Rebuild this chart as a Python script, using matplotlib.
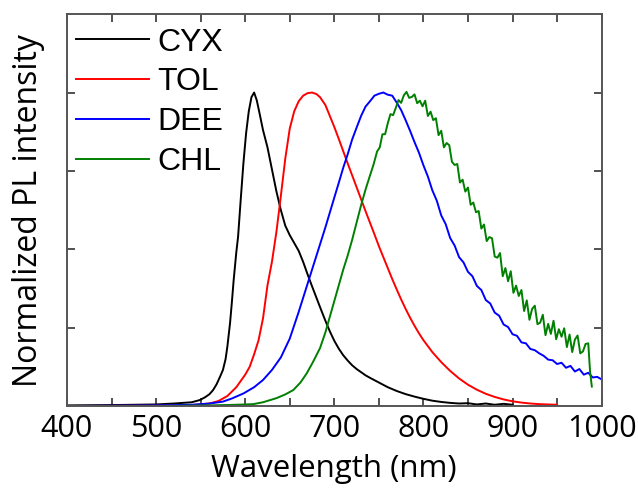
import numpy as np
import matplotlib.pyplot as plt

# PL spectra, normalized to peak
wl_cyx = [400, 450, 500, 520, 540, 549, 555, 560, 564, 568, 572, 575, 578, 580, 583,
          585, 587, 590, 592, 595, 598, 601, 604, 607, 610, 613, 616, 620, 625, 630,
          635, 640, 645, 650, 655, 660, 665, 670, 675, 680, 685, 690, 695, 700, 705,
          710, 715, 720, 725, 730, 735, 740, 750, 760, 770, 780, 790, 800, 810, 820,
          830, 840, 850, 860, 870, 880, 890, 900]
pl_cyx = [0.002, 0.003, 0.005, 0.008, 0.012, 0.019, 0.028, 0.038, 0.051, 0.07, 0.095, 0.115,
          0.15, 0.19, 0.265, 0.33, 0.40, 0.49, 0.54, 0.66, 0.775, 0.87, 0.94, 0.985,
          1.0, 0.975, 0.935, 0.88, 0.825, 0.755, 0.685, 0.625, 0.575, 0.545, 0.52,
          0.495, 0.46, 0.42, 0.382, 0.345, 0.308, 0.272, 0.238, 0.208, 0.183, 0.162,
          0.145, 0.13, 0.118, 0.108, 0.098, 0.09, 0.075, 0.06, 0.048, 0.038, 0.03,
          0.023, 0.017, 0.013, 0.010, 0.008, 0.009, 0.005, 0.008, 0.004, 0.007, 0.004]

wl_tol = [400, 500, 540, 560, 570, 580, 590, 595, 600, 605, 610, 615, 620, 625, 630,
          635, 640, 645, 650, 655, 660, 665, 670, 675, 680, 684, 690, 695, 700, 705,
          710, 715, 720, 725, 730, 735, 740, 745, 750, 755, 760, 765, 770, 775, 780,
          785, 790, 795, 800, 810, 820, 830, 840, 850, 860, 870, 880, 890, 900, 910,
          920, 930, 940, 950]
pl_tol = [0.0, 0.001, 0.003, 0.008, 0.016, 0.032, 0.06, 0.08, 0.1, 0.125, 0.165, 0.21,
          0.28, 0.385, 0.46, 0.555, 0.67, 0.79, 0.885, 0.94, 0.972, 0.99, 0.998, 1.0,
          0.995, 0.985, 0.96, 0.925, 0.89, 0.852, 0.813, 0.774, 0.736, 0.698, 0.66,
          0.622, 0.585, 0.548, 0.51, 0.475, 0.44, 0.405, 0.372, 0.34, 0.31, 0.282,
          0.256, 0.232, 0.21, 0.172, 0.14, 0.112, 0.088, 0.068, 0.052, 0.039, 0.029,
          0.021, 0.015, 0.011, 0.008, 0.006, 0.005, 0.004]

wl_dee = [400, 500, 540, 560, 575, 585, 598, 610, 620, 630, 640, 650, 660, 670, 680,
          690, 700, 705, 710, 715, 720, 725, 730, 735, 740, 745, 750, 755, 760, 765,
          770, 775, 780, 785, 790, 795, 800, 805, 810, 815, 820, 825, 830, 835, 840,
          845, 850, 855, 860, 865, 870, 875, 880, 885, 890, 895, 900, 905, 910, 915,
          920, 925, 930, 935, 940, 945, 950, 955, 960, 965, 970, 975, 980, 985, 990,
          995, 1000]
pl_dee = [0.0, 0.002, 0.004, 0.008, 0.014, 0.024, 0.04, 0.06, 0.083, 0.115, 0.155,
          0.215, 0.3, 0.39, 0.48, 0.57, 0.665, 0.712, 0.76, 0.803, 0.85, 0.888, 0.925,
          0.955, 0.972, 0.99, 0.996, 1.0, 0.993, 0.99, 0.968, 0.944, 0.912, 0.878,
          0.842, 0.808, 0.768, 0.732, 0.688, 0.655, 0.608, 0.58, 0.536, 0.512, 0.475,
          0.458, 0.428, 0.414, 0.383, 0.37, 0.338, 0.327, 0.298, 0.288, 0.26, 0.252,
          0.229, 0.224, 0.203, 0.2, 0.182, 0.178, 0.168, 0.16, 0.148, 0.146, 0.134,
          0.138, 0.122, 0.128, 0.11, 0.118, 0.1, 0.106, 0.091, 0.093, 0.085]

wl_chl = [430, 500, 560, 590, 609, 620, 635, 645, 654, 662, 669, 676, 684, 690, 695,
          700, 705, 710, 715, 720, 725, 730, 735, 740, 744, 748, 751, 754, 757, 760,
          763, 766, 769, 772, 775, 778, 781, 784, 787, 790, 793, 796, 799, 802, 805,
          808, 811, 814, 817, 820, 823, 826, 829, 832, 835, 838, 841, 844, 847, 850,
          853, 856, 859, 862, 865, 868, 871, 874, 877, 880, 883, 886, 889, 892, 895,
          898, 901, 904, 907, 910, 913, 916, 919, 922, 925, 928, 931, 934, 937, 940,
          943, 946, 949, 952, 955, 958, 961, 964, 967, 970, 973, 976, 979, 982, 985,
          987, 989]
pl_chl = [0.0, 0.0, 0.002, 0.004, 0.006, 0.012, 0.025, 0.037, 0.051, 0.075, 0.104, 0.14,
          0.185, 0.235, 0.285, 0.335, 0.385, 0.435, 0.48, 0.53, 0.585, 0.64, 0.69,
          0.735, 0.77, 0.812, 0.825, 0.867, 0.867, 0.902, 0.931, 0.928, 0.951, 0.976,
          0.967, 0.991, 1.002, 0.983, 0.986, 0.994, 0.966, 0.974, 0.956, 0.974, 0.925,
          0.939, 0.912, 0.918, 0.864, 0.878, 0.825, 0.839, 0.832, 0.779, 0.769, 0.772,
          0.713, 0.722, 0.684, 0.697, 0.642, 0.649, 0.618, 0.622, 0.566, 0.579, 0.526,
          0.539, 0.535, 0.477, 0.473, 0.488, 0.414, 0.44, 0.398, 0.43, 0.361, 0.384,
          0.351, 0.37, 0.303, 0.337, 0.275, 0.31, 0.32, 0.261, 0.266, 0.291, 0.226,
          0.262, 0.23, 0.272, 0.213, 0.245, 0.221, 0.248, 0.188, 0.228, 0.172, 0.212,
          0.225, 0.168, 0.174, 0.198, 0.2, 0.11, 0.062]

names = ['CYX', 'TOL', 'DEE', 'CHL']
colors = ['black', 'red', 'blue', 'green']

fig = plt.figure(figsize=(6.38, 4.88), dpi=100)
ax = fig.add_axes([0.105, 0.168, 0.838, 0.803])

for x, y, n, c in zip([wl_cyx, wl_tol, wl_dee, wl_chl],
                      [pl_cyx, pl_tol, pl_dee, pl_chl], names, colors):
    ax.plot(x, y, color=c, lw=1.4, label=n)

ax.set_xlim(400, 1000)
ax.set_ylim(0, 1.25)
ax.set_xticks(np.arange(400, 1001, 100))
ax.set_xticks(np.arange(450, 1000, 100), minor=True)
ax.set_yticks([0.25, 0.5, 0.75, 1.0])
ax.set_yticklabels([])
ax.tick_params(which='both', direction='in', top=True, right=True,
               length=6, width=1.2, color='#333333')
ax.tick_params(axis='x', labelsize=22, pad=6)
for lab in ax.get_xticklabels():
    lab.set_fontfamily('Open Sans')
for s in ax.spines.values():
    s.set_color('#555555')
    s.set_linewidth(1.4)

ax.set_xlabel('Wavelength (nm)', fontsize=22.5, family='Open Sans', labelpad=7)
ax.set_ylabel('Normalized PL intensity', fontsize=23, family='Open Sans', labelpad=12)

ax.legend(loc='upper left', bbox_to_anchor=(0.004, 0.982), frameon=False,
          prop={'family': 'Liberation Sans', 'size': 23},
          handlelength=2.3, handletextpad=0.25, labelspacing=0.31,
          borderaxespad=0.0, borderpad=0.2)

fig.savefig('out.png', dpi=100)
